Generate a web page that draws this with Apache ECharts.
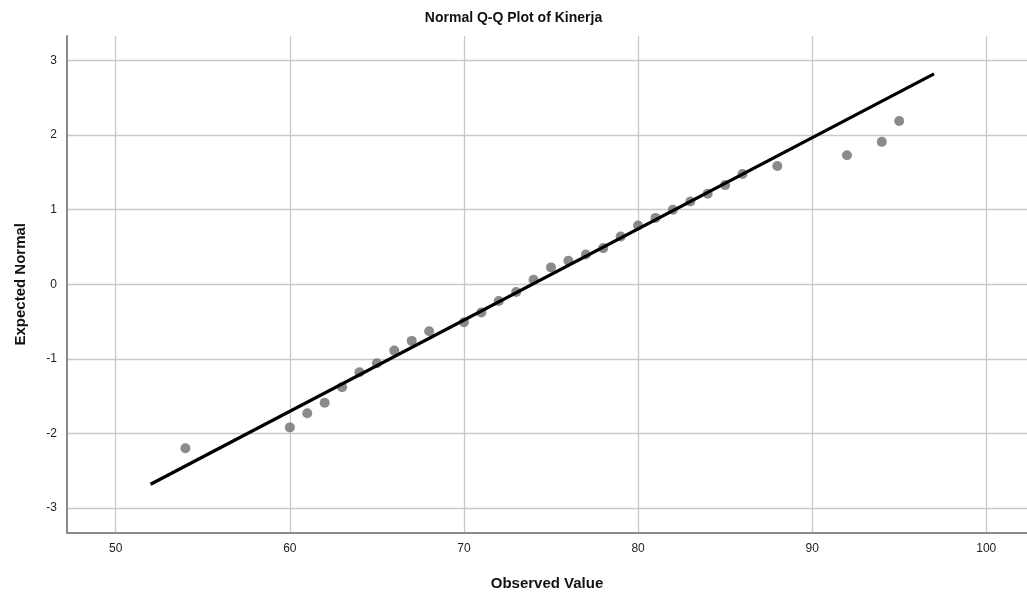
<!DOCTYPE html>
<html>
<head>
<meta charset="utf-8">
<script src="https://cdn.jsdelivr.net/npm/echarts@6/dist/echarts.min.js"></script>
<style>html,body{margin:0;padding:0;background:#fff;}#c{width:1027px;height:593px;}</style>
</head>
<body>
<div id="c"></div>
<script>
var observed = [54, 60, 61, 62, 63, 64, 65, 66, 67, 68, 70, 71, 72, 73, 74, 75, 76, 77, 78, 79, 80, 81, 82, 83, 84, 85, 86, 88, 92, 94, 95];
var expected = [-2.20, -1.92, -1.73, -1.59, -1.38, -1.18, -1.06, -0.89, -0.76, -0.63, -0.51, -0.38, -0.225, -0.105, 0.06, 0.226, 0.316, 0.40, 0.485, 0.64, 0.788, 0.89, 1.0, 1.11, 1.215, 1.33, 1.48, 1.585, 1.73, 1.91, 2.19];
var refLineX = [52, 97];
var refLineY = [-2.683, 2.822];
var xRange = [47.2, 102.34];
var yRange = [-3.33, 3.33];

var font = '"Liberation Sans", Arial, sans-serif';
var chart = echarts.init(document.getElementById('c'), null, {renderer: 'canvas'});
chart.setOption({
  animation: false,
  backgroundColor: '#ffffff',
  title: {
    text: 'Normal Q-Q Plot of Kinerja',
    left: 'center', top: 6,
    textStyle: {fontFamily: font, fontSize: 14, fontWeight: 'bold', color: '#111'}
  },
  grid: {left: 67, top: 36, right: 0, bottom: 60.5, containLabel: false, outerBoundsMode: 'none'},
  xAxis: {
    type: 'value', min: xRange[0], max: xRange[1], minInterval: 10, maxInterval: 10,
    name: 'Observed Value', nameLocation: 'middle', nameGap: 44,
    nameTextStyle: {fontFamily: font, fontSize: 15, fontWeight: 'bold', color: '#111'},
    axisLine: {show: true, onZero: false, lineStyle: {color: '#8a8a8a', width: 2}},
    axisTick: {show: false},
    axisLabel: {fontFamily: font, fontSize: 12, color: '#222', margin: 10, showMinLabel: false, showMaxLabel: false},
    splitLine: {show: true, showMinLine: false, showMaxLine: false, lineStyle: {color: '#c8c8c8', width: 1.3}}
  },
  yAxis: {
    type: 'value', min: yRange[0], max: yRange[1], minInterval: 1, maxInterval: 1,
    name: 'Expected Normal', nameLocation: 'middle', nameGap: 39,
    nameTextStyle: {fontFamily: font, fontSize: 15, fontWeight: 'bold', color: '#111'},
    axisLine: {show: true, onZero: false, lineStyle: {color: '#8a8a8a', width: 2}},
    axisTick: {show: false},
    axisLabel: {fontFamily: font, fontSize: 12, color: '#222', margin: 10, showMinLabel: false, showMaxLabel: false},
    splitLine: {show: true, showMinLine: false, showMaxLine: false, lineStyle: {color: '#c8c8c8', width: 1.3}}
  },
  series: [
    {
      type: 'scatter',
      data: observed.map(function (v, i) { return [v, expected[i]]; }),
      symbol: 'circle', symbolSize: 10,
      itemStyle: {color: '#6e6e6e'},
      z: 2
    },
    {
      type: 'line',
      data: refLineX.map(function (v, i) { return [v, refLineY[i]]; }),
      symbol: 'none',
      lineStyle: {color: '#000', width: 3.2},
      z: 3
    }
  ]
});
</script>
</body>
</html>
